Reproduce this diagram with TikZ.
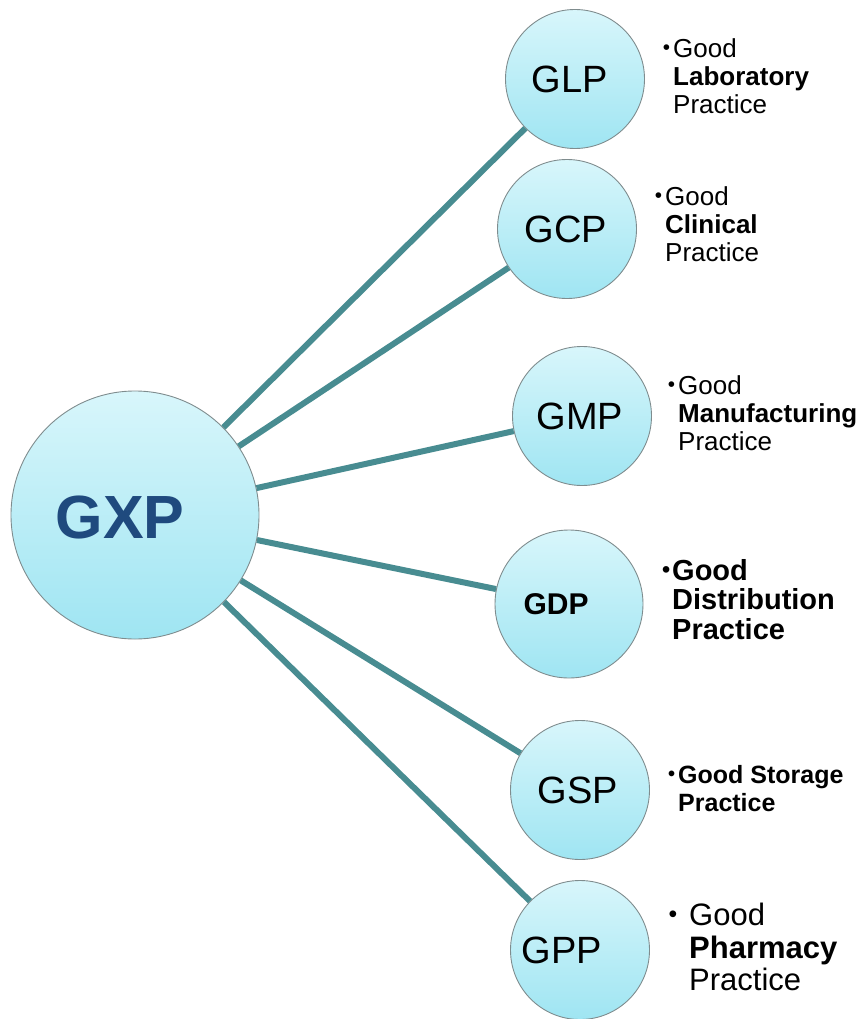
\documentclass[tikz,border=0pt]{standalone}
\usepackage{fontspec}
\setmainfont{Liberation Sans}
\definecolor{linkteal}{HTML}{488C91}
\definecolor{discTop}{HTML}{D8F6FB}
\definecolor{discBottom}{HTML}{9FE5F2}
\definecolor{discEdge}{HTML}{7F8C8E}
\definecolor{hubText}{HTML}{1F4A7E}
\tikzset{
  disc/.style={circle, inner sep=0pt, draw=discEdge, line width=0.9pt,
    top color=discTop, bottom color=discBottom, minimum size=#1},
  disc/.default=139pt,
  link/.style={draw=linkteal, line width=6pt},
  desc/.style={anchor=north west, align=left, inner sep=0pt,
    font=\fontsize{26}{28}\selectfont},
}
% small bullet hung to the left of the first line
\newcommand{\bul}[1]{\llap{\raisebox{0.1em}{\scalebox{0.8}{\textbullet}}\hspace{#1}}}
\begin{document}
\begin{tikzpicture}[x=1pt,y=-1pt]
\useasboundingbox (0,0) rectangle (867,1019);

% hub and satellites
\node[disc=248pt] (gxp) at (135,515) {};
\node[disc] (glp) at (575,79) {};
\node[disc] (gcp) at (567,229) {};
\node[disc] (gmp) at (582,416) {};
\node[disc=148pt] (gdp) at (569,604) {};
\node[disc] (gsp) at (580,790) {};
\node[disc] (gpp) at (580,950) {};

% spokes, ending on the disc outlines
\foreach \s in {glp,gcp,gmp,gdp,gsp,gpp}
  \path[link] (gxp) -- (\s);

% circle labels
\node[font=\fontsize{61}{61}\selectfont\bfseries, text=hubText] (tgxp) at (120,517) {GXP};
\node[font=\fontsize{38}{38}\selectfont] (tglp) at (570,79) {GLP};
\node[font=\fontsize{38}{38}\selectfont] (tgcp) at (566,229) {GCP};
\node[font=\fontsize{38}{38}\selectfont] (tgmp) at (580,416) {GMP};
\node[font=\fontsize{30}{30}\selectfont\bfseries] (tgdp) at (556,604) {GDP};
\node[font=\fontsize{38}{38}\selectfont] (tgsp) at (578,790) {GSP};
\node[font=\fontsize{38}{38}\selectfont] (tgpp) at (562,950) {GPP};

% descriptions
\node[desc] (dglp) at (673,38) {\bul{3pt}Good\\\textbf{Laboratory}\\Practice};
\node[desc] (dgcp) at (665,186) {\bul{3pt}Good\\\textbf{Clinical}\\Practice};
\node[desc] (dgmp) at (678,375) {\bul{3pt}Good\\\textbf{Manufacturing}\\Practice};
\node[desc, font=\fontsize{29}{29.5}\selectfont\bfseries] (dgdp) at (672,559) {\bul{2pt}Good\\Distribution\\Practice};
\node[desc, font=\fontsize{25}{28}\selectfont\bfseries] (dgsp) at (678,765) {\bul{3pt}Good Storage\\Practice};
\node[desc, font=\fontsize{31}{32.5}\selectfont] (dgpp) at (689,903) {\bul{12pt}Good\\\textbf{Pharmacy}\\Practice};
\end{tikzpicture}
\end{document}
